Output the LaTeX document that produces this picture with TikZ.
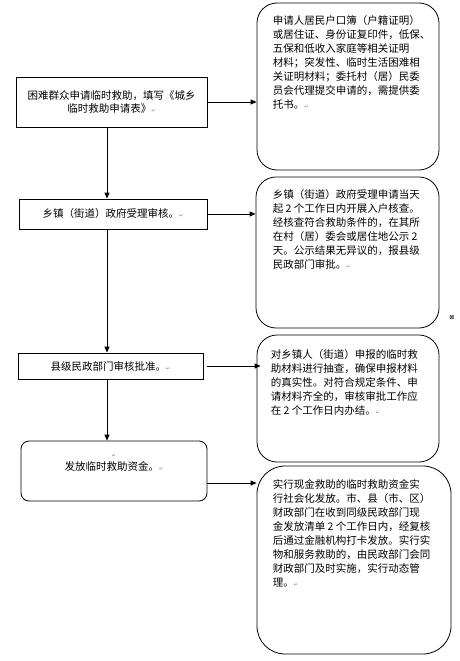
\documentclass[tikz,border=0pt]{standalone}
\usepackage{fontspec}
\setmainfont{Noto Sans CJK SC}
\newfontfamily\marksfont{DejaVu Sans}
\usetikzlibrary{arrows.meta}

\newcommand{\pmark}{{\marksfont\fontsize{5}{5}\selectfont\color{gray}↵}}

\tikzset{
  leftbox/.style={draw, line width=0.8pt, inner sep=0pt, align=center,
    font=\fontsize{10.5}{13.5}\selectfont},
  roundbox/.style={draw, line width=0.8pt, rounded corners=20pt, inner sep=0pt},
  notetext/.style={anchor=north west, inner sep=0pt, align=left,
    font=\fontsize{10.5}{14}\selectfont},
  flow/.style={-{Triangle[length=6pt,width=5pt]}, line width=0.8pt},
}

\begin{document}
\begin{tikzpicture}[x=1pt,y=-1pt]
\useasboundingbox (0,0) rectangle (460,661);

% left column
\node[leftbox, minimum width=191pt, minimum height=50pt] (apply) at (111.5,102)
  {困难群众申请临时救助，填写《城乡\\临时救助申请表》\pmark};
\node[leftbox, minimum width=188pt, minimum height=30pt] (town) at (113,214)
  {乡镇（街道）政府受理审核。\pmark};
\node[leftbox, minimum width=185pt, minimum height=26pt] (county) at (110.5,366)
  {县级民政部门审核批准。\pmark};
\node[leftbox, rounded corners=8pt, minimum width=186pt, minimum height=60pt] (payout) at (114,471) {};
\node[leftbox, draw=none, align=center] (payouttext) at (114,463)
  {\pmark\\发放临时救助资金。\pmark};

% right column
\node[roundbox, minimum width=182pt, minimum height=167pt] (docs) at (348,86.5) {};
\node[notetext] (docstext) at ([xshift=16pt,yshift=-13pt]docs.north west)
  {申请人居民户口簿（户籍证明）\\
   或居住证、身份证复印件，低保、\\
   五保和低收入家庭等相关证明\\
   材料；突发性、临时生活困难相\\
   关证明材料；委托村（居）民委\\
   员会代理提交申请的，需提供委\\
   托书。\pmark};

\node[roundbox, minimum width=183pt, minimum height=151pt] (check) at (347.5,252.5) {};
\node[notetext] (checktext) at ([xshift=17pt,yshift=-13pt]check.north west)
  {乡镇（街道）政府受理申请当天\\
   起 2 个工作日内开展入户核查。\\
   经核查符合救助条件的，在其所\\
   在村（居）委会或居住地公示 2\\
   天。公示结果无异议的，报县级\\
   民政部门审批。\pmark};

\node[roundbox, minimum width=182pt, minimum height=127pt] (review) at (348,398.5) {};
\node[notetext] (reviewtext) at ([xshift=14pt,yshift=-15pt]review.north west)
  {对乡镇人（街道）申报的临时救\\
   助材料进行抽查，确保申报材料\\
   的真实性。对符合规定条件、申\\
   请材料齐全的，审核审批工作应\\
   在 2 个工作日内办结。\pmark};

\node[roundbox, rounded corners=28pt, minimum width=194pt, minimum height=188pt] (cash) at (354,560) {};
\node[notetext] (cashtext) at ([xshift=16pt,yshift=-14pt]cash.north west)
  {实行现金救助的临时救助资金实\\
   行社会化发放。市、县（市、区）\\
   财政部门在收到同级民政部门现\\
   金发放清单 2 个工作日内，经复核\\
   后通过金融机构打卡发放。实行实\\
   物和服务救助的，由民政部门会同\\
   财政部门及时实施，实行动态管\\
   理。\pmark};

\node[inner sep=0pt, font=\marksfont\fontsize{6}{6}\selectfont] (anchormark) at (452,318) {⊠};

% connectors
\coordinate (spine) at (107,0);
\draw[flow] (apply.south -| spine) -- (town.north -| spine);
\draw[flow] (town.south -| spine) -- (county.north -| spine);
\draw[flow] (county.south -| spine) -- (payout.north -| spine);

\draw[flow] (apply.east) -- (apply.east -| docs.west);
\draw[flow] (town.east) -- (town.east -| check.west);
\draw[flow] ([xshift=4pt]county.east) -- ([xshift=4pt]county.east -| review.west);
\draw[flow] ([yshift=-12pt]payout.east) -- ([yshift=-12pt]payout.east -| cash.west);
\end{tikzpicture}
\end{document}
